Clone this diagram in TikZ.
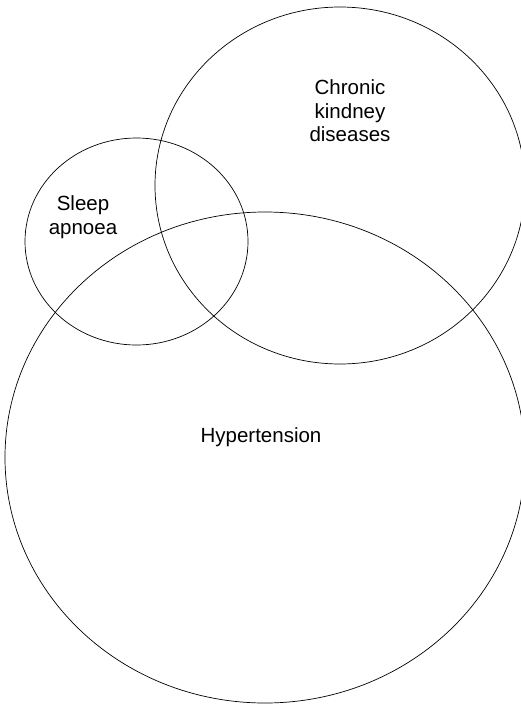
\documentclass[tikz,border=0pt]{standalone}
\usepackage{fontspec}
\setmainfont{Liberation Sans}
\usepackage{tikz}
\usetikzlibrary{positioning}

\begin{document}
\begin{tikzpicture}[x=1pt,y=-1pt,line width=.7pt,
    label text/.style={align=center,inner sep=0pt,font=\fontsize{20.5}{23.5}\selectfont}]
          \useasboundingbox (0,0) rectangle (521,707);
          \draw (340,185.5) ellipse [x radius=185,y radius=178.5];
          \draw (136.5,241.5) ellipse [x radius=111.5,y radius=103.5];
          \draw (265,457.5) ellipse [x radius=260,y radius=245.5];
          \node[label text] (ckd) at (350,111) {Chronic\\kindney\\diseases};
          \node[label text] (sleep) at (83,217) {Sleep\\apnoea};
          \node[label text] (hyper) at (261,437) {Hypertension};
    \end{tikzpicture}
\end{document}
